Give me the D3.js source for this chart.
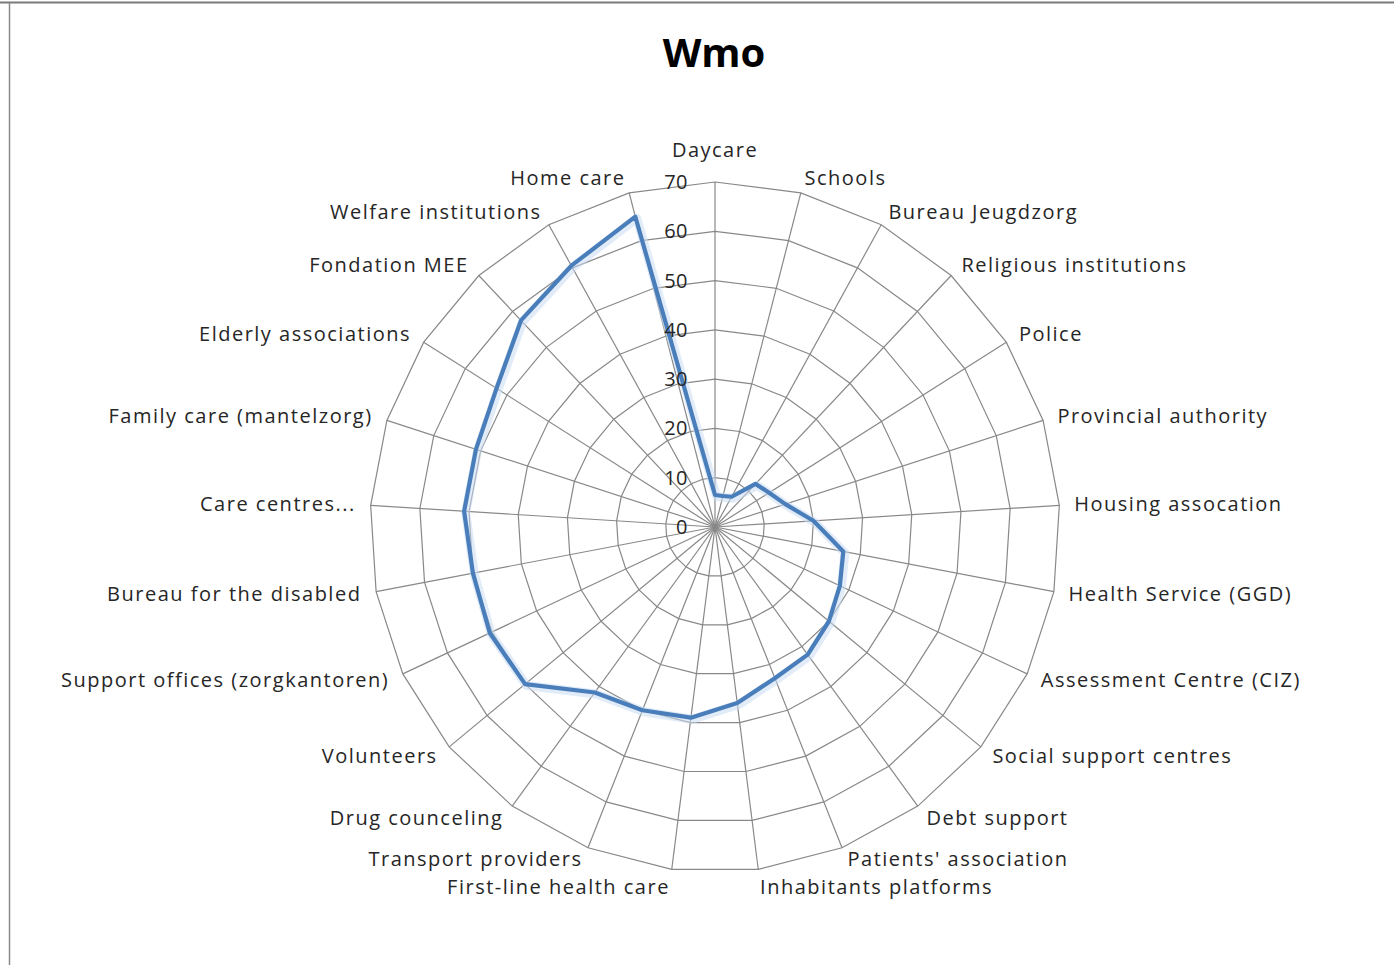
<!DOCTYPE html>
<html>
<head>
<meta charset="utf-8">
<script src="https://cdn.jsdelivr.net/npm/d3@7"></script>
<style>
  html, body { margin: 0; padding: 0; background: #ffffff; }
  svg { display: block; }
  text { font-family: "Open Sans", "Noto Sans", sans-serif; fill: #262626; }
</style>
</head>
<body>
<svg id="chart" width="1394" height="965"></svg>
<script>
// ---- data ----
const title = "Wmo";
const categories = [
  "Daycare", "Schools", "Bureau Jeugdzorg", "Religious institutions", "Police",
  "Provincial authority", "Housing assocation", "Health Service (GGD)",
  "Assessment Centre (CIZ)", "Social support centres", "Debt support",
  "Patients' association", "Inhabitants platforms", "First-line health care",
  "Transport providers", "Drug counceling", "Volunteers",
  "Support offices (zorgkantoren)", "Bureau for the disabled", "Care centres...",
  "Family care (mantelzorg)", "Elderly associations", "Fondation MEE",
  "Welfare institutions", "Home care"
];
const values = [
  6.5, 6.5, 7, 12, 13,
  15, 20, 26.5,
  28, 30, 32,
  33, 36, 39,
  40, 41.5, 50,
  50.5, 50, 51,
  51, 52.5, 57.5,
  60.5, 65
];
const tickValues = [0, 10, 20, 30, 40, 50, 60, 70];

// ---- layout ----
const svg = d3.select("#chart");
const cx = 715, cy = 527, R = 345;
const n = categories.length;

// frame
svg.append("line").attr("x1", 0).attr("x2", 1394).attr("y1", 2.5).attr("y2", 2.5)
  .attr("stroke", "#7a7a7a").attr("stroke-width", 2);
svg.append("line").attr("x1", 9.5).attr("x2", 9.5).attr("y1", 3).attr("y2", 965)
  .attr("stroke", "#8a8a8a").attr("stroke-width", 1.5);

const r = d3.scaleLinear().domain([0, 70]).range([0, R]);
const angle = d3.scalePoint().domain(categories).range([0, 2 * Math.PI * (n - 1) / n]);

const g = svg.append("g").attr("transform", `translate(${cx},${cy})`);

// rings (polygonal)
const ringLine = d3.lineRadial().angle(d => angle(d)).curve(d3.curveLinearClosed);
tickValues.filter(t => t > 0).forEach(t => {
  g.append("path")
    .attr("d", ringLine.radius(() => r(t))(categories))
    .attr("fill", "none").attr("stroke", "#888888").attr("stroke-width", 1.2);
});

// spokes
categories.forEach(c => {
  const a = angle(c);
  g.append("line")
    .attr("x1", 0).attr("y1", 0)
    .attr("x2", r(70) * Math.sin(a)).attr("y2", -r(70) * Math.cos(a))
    .attr("stroke", "#888888").attr("stroke-width", 1.2);
});

// series
const seriesLine = d3.lineRadial()
  .angle((d, i) => angle(categories[i]))
  .radius(d => r(d))
  .curve(d3.curveLinearClosed);
g.append("path").attr("d", seriesLine(values))
  .attr("fill", "none").attr("stroke", "#c9dcf2").attr("stroke-width", 9)
  .attr("stroke-opacity", 0.55).attr("stroke-linejoin", "round")
  .attr("transform", "translate(1.5,1.5)");
g.append("path").attr("d", seriesLine(values))
  .attr("fill", "none").attr("stroke", "#4a7ebb").attr("stroke-width", 4.2)
  .attr("stroke-linejoin", "round");

// tick labels
tickValues.forEach(t => {
  g.append("text")
    .attr("x", -27).attr("y", -r(t))
    .attr("dy", "0.35em")
    .attr("text-anchor", "end")
    .style("font-size", "20px")
    .style("letter-spacing", "0.5px")
    .text(t);
});

// category labels
categories.forEach(c => {
  const a = angle(c);
  const s = Math.sin(a), co = Math.cos(a);
  const pad = 15;
  let x = (R + pad) * s;
  let y = -(R + pad) * co;
  let anchor = "middle";
  if (s > 0.05) anchor = "start";
  else if (s < -0.05) anchor = "end";
  if (co > 0.99) y = -R - 32;
  // separate the two nearly-bottom label pairs a little
  if (co < -0.9 && co > -0.95) y -= 3;
  if (co < -0.98) y += 3;
  g.append("text")
    .attr("x", x).attr("y", y)
    .attr("dy", "0.35em")
    .attr("text-anchor", anchor)
    .style("font-size", "20px")
    .style("letter-spacing", "1.5px")
    .text(c);
});

// title
svg.append("text")
  .attr("x", 714).attr("y", 53)
  .attr("dy", "0.35em")
  .attr("text-anchor", "middle")
  .style("font-size", "40px").style("font-weight", "bold")
  .style("fill", "#000")
  .text(title);
</script>
</body>
</html>
